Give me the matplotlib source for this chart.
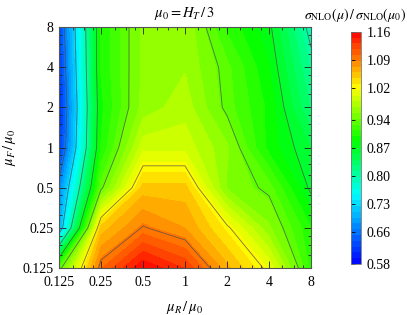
import numpy as np
import matplotlib
matplotlib.use("Agg")
import matplotlib.pyplot as plt
from matplotlib.colors import LinearSegmentedColormap

plt.rcParams['font.family'] = ['Liberation Serif', 'DejaVu Serif']
plt.rcParams['mathtext.fontset'] = 'stix'

# scale factors (mu_R along x, mu_F along y)
mu_r = [0.125, 0.25, 0.5, 1, 2, 4, 8]
mu_f = [0.125, 0.25, 0.5, 1, 2, 4, 8]
tick_labels = ['0.125', '0.25', '0.5', '1', '2', '4', '8']

# sigma_NLO(mu) / sigma_NLO(mu0), one row per mu_F (from 0.125 up to 8)
row_0125 = [0.93, 1.10, 1.159, 1.13, 1.063, 1.013, 0.909]
row_025 = [0.70, 1.05, 1.092, 1.073, 1.025, 0.96, 0.90]
row_05 = [0.67, 0.935, 1.05, 1.05, 0.955, 0.935, 0.865]
row_1 = [0.615, 0.90, 0.995, 0.995, 0.96, 0.893, 0.855]
row_2 = [0.605, 0.895, 0.963, 0.98, 0.935, 0.895, 0.825]
row_4 = [0.615, 0.90, 0.96, 0.97, 0.9325, 0.885, 0.81]
row_8 = [0.625, 0.90, 0.96, 0.97, 0.91, 0.875, 0.79]
ratio = np.array([row_0125, row_025, row_05, row_1, row_2, row_4, row_8])

cbar_ticks = [0.58, 0.66, 0.73, 0.80, 0.87, 0.94, 1.02, 1.09, 1.16]

cmap = LinearSegmentedColormap.from_list(
    'bcgyr', [(0.0, '#0000ff'), (0.3, '#00ffff'), (0.53, '#00ff00'),
              (0.76, '#ffff00'), (1.0, '#ff0000')])

X, Y = np.meshgrid(np.log2(mu_r), np.log2(mu_f))

fig = plt.figure(figsize=(4.07, 3.15), dpi=100)
ax = fig.add_axes([0.145, 0.149, 0.619, 0.765])
cax = fig.add_axes([0.862, 0.162, 0.0246, 0.737])

levels = np.linspace(0.58, 1.16, 41)
cf = ax.contourf(X, Y, ratio, levels=levels, cmap=cmap)
ax.contour(X, Y, ratio, levels=cbar_ticks, colors='#505050',
           linewidths=0.6, alpha=0.8)

ticks = np.log2(mu_r)
ax.set_xticks(ticks)
ax.set_xticklabels(tick_labels)
ax.set_yticks(ticks)
ax.set_yticklabels(tick_labels)
minor = [t + np.log2(s) for t in ticks[:-1] for s in (1.25, 1.5, 1.75)]
ax.set_xticks(minor, minor=True)
ax.set_yticks(minor, minor=True)
ax.set_xlim(-3, 3)
ax.set_ylim(-3, 3)
ax.tick_params(which='both', direction='in', top=True, right=True,
               labelsize=10, width=0.6, color='#222222')
ax.tick_params(which='major', length=5)
ax.tick_params(which='minor', length=2.5)
ax.tick_params(axis='x', pad=6)
ax.tick_params(axis='y', pad=4)
for s in ax.spines.values():
    s.set_linewidth(0.8)
    s.set_color('#555555')

ax.set_title(r'$\mu_{\mathit{0}} = H_T\,/\,3$', fontsize=10.5, pad=7)
ax.set_xlabel(r'$\mu_R\,/\,\mu_{\mathit{0}}$', fontsize=10.5, labelpad=7)
ax.set_ylabel(r'$\mu_F\,/\,\mu_{\mathit{0}}$', fontsize=10.5, labelpad=3)

cb = fig.colorbar(cf, cax=cax, ticks=cbar_ticks)
cb.ax.set_yticklabels(['%.2f' % t for t in cbar_ticks])
cb.ax.tick_params(direction='in', length=3, width=0.6, labelsize=10, pad=4,
                  left=True, right=False, labelleft=False, labelright=True)
cb.outline.set_linewidth(0.6)
cb.outline.set_edgecolor('#777777')
fig.text(0.997, 0.925, r'$\sigma_{\rm NLO}(\mu)\,/\,\sigma_{\rm NLO}(\mu_{\mathit{0}})$',
         ha='right', va='bottom', fontsize=10)

fig.savefig('out.png', dpi=100)
